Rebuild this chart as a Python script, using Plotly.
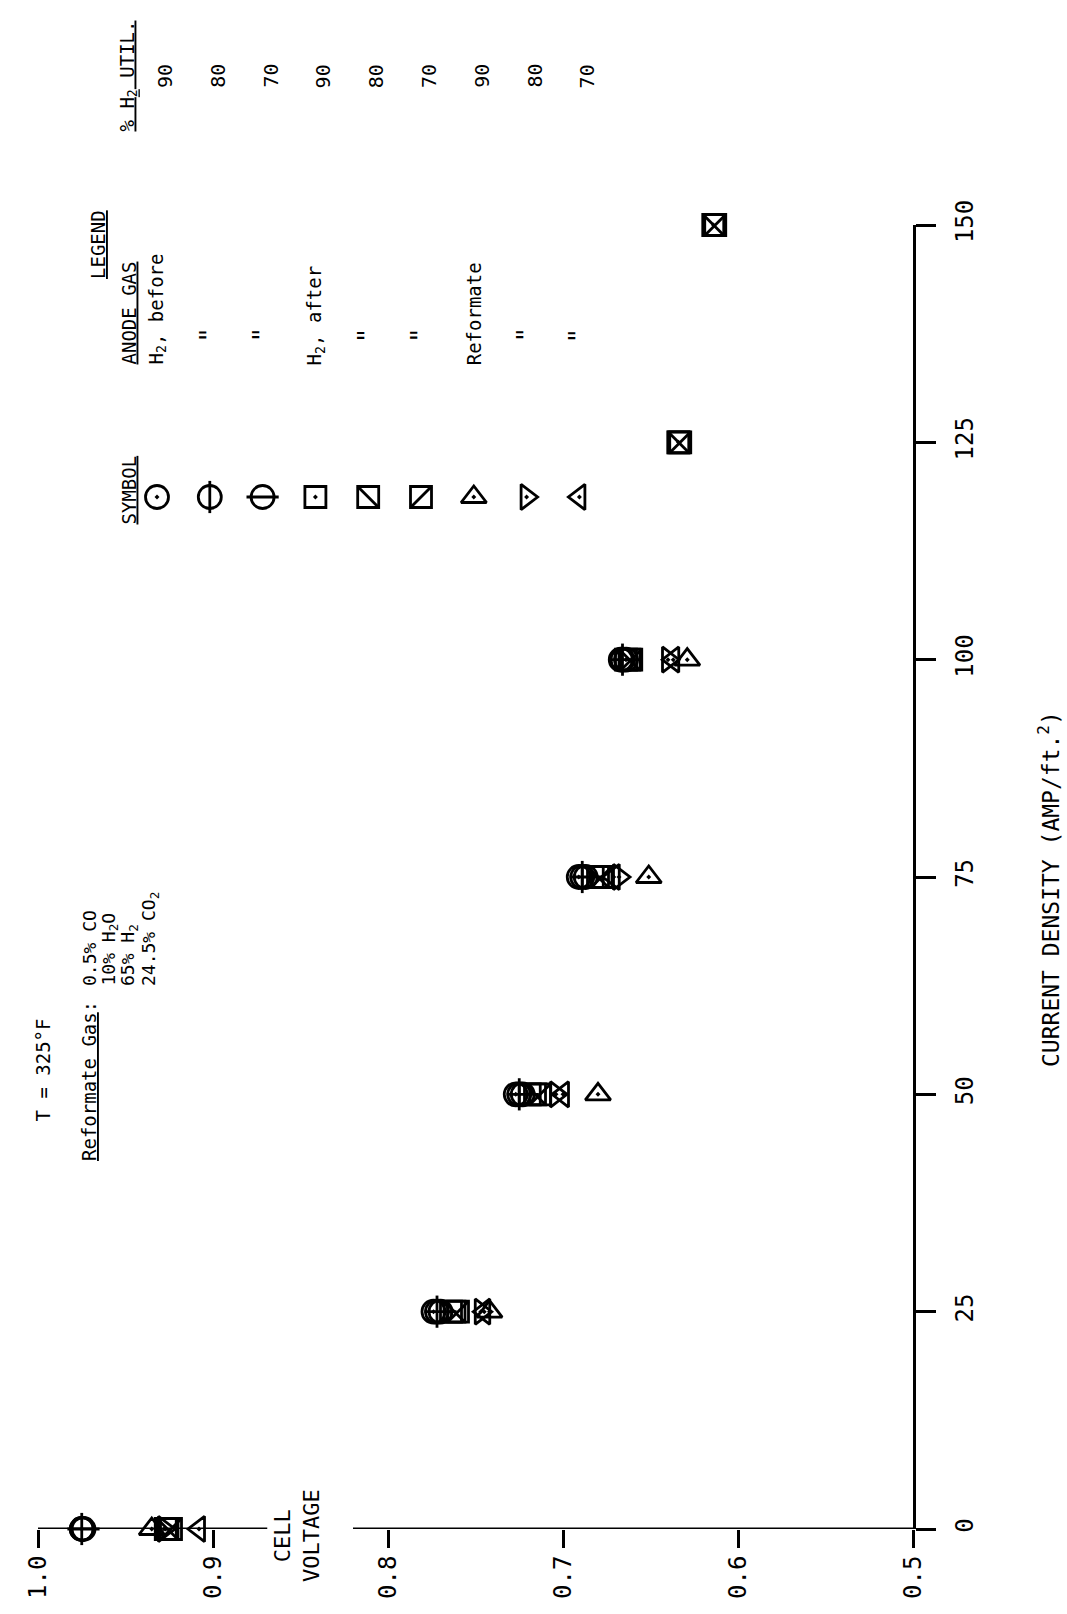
import plotly.graph_objects as go

# ---------------- data (cell voltage vs current density) ----------------
current_before = [0, 25, 50, 75, 100]
v_before_90 = [0.975, 0.774, 0.727, 0.691, 0.667]
v_before_80 = [0.975, 0.772, 0.725, 0.689, 0.666]
v_before_70 = [0.974, 0.770, 0.723, 0.687, 0.664]

current_after = [0, 25, 50, 75, 100, 125, 150]
v_after_90 = [0.927, 0.764, 0.719, 0.683, 0.664, 0.634, 0.614]
v_after_80 = [0.926, 0.762, 0.716, 0.680, 0.662, 0.634, 0.614]
v_after_70 = [0.924, 0.760, 0.713, 0.678, 0.661, 0.633, 0.613]

current_ref = [0, 25, 50, 75, 100]
v_ref_90 = [0.935, 0.742, 0.680, 0.651, 0.629]
v_ref_80 = [0.928, 0.747, 0.704, 0.668, 0.640]
v_ref_70 = [0.908, 0.745, 0.700, 0.671, 0.637]

voltage_ticks = [1.0, 0.9, 0.8, 0.7, 0.6, 0.5]
voltage_ticktext = ["1.0", "0.9", "0.8", "0.7", "0.6", "0.5"]
current_ticks = [0, 25, 50, 75, 100, 125, 150]

legend_anode = ["H<sub>2</sub>, before", '"', '"', "H<sub>2</sub>, after", '"', '"',
                "Reformate", '"', '"']
legend_util = ["90", "80", "70", "90", "80", "70", "90", "80", "70"]
composition = ["0.5% CO", "10% H<sub>2</sub>O", "65% H<sub>2</sub>", "24.5% CO<sub>2</sub>"]

# ---------------- styling ----------------
FONT = "DejaVu Sans Mono"
W, H = 1067, 1614
LW = 2.8

series = [
    (current_before, v_before_90, ["circle-open-dot"], 23),
    (current_before, v_before_80, ["circle-open", "line-ns-open"], 23),
    (current_before, v_before_70, ["circle-open", "line-ew-open"], 23),
    (current_after, v_after_90, ["square-open-dot"], 21),
    (current_after, v_after_80, ["square-open", "line-nw-open"], 21),
    (current_after, v_after_70, ["square-open", "line-ne-open"], 21),
    (current_ref, v_ref_90, ["triangle-up-open-dot"], 22),
    (current_ref, v_ref_80, ["triangle-right-open-dot"], 22),
    (current_ref, v_ref_70, ["triangle-left-open-dot"], 22),
]

fig = go.Figure()

# legend symbols on an invisible pixel-space axis (drawn first, underneath)
row0, row_step = 157, 52.8
rows_x = [row0 + i * row_step for i in range(9)]
sym_col_y = 497
for i, (cur, volt, syms, size) in enumerate(series):
    for s in syms:
        fig.add_trace(go.Scatter(
            x=[rows_x[i]], y=[sym_col_y], mode="markers", cliponaxis=False,
            marker=dict(symbol=s, size=size, color="black", line=dict(width=LW, color="black")),
            xaxis="x2", yaxis="y2", hoverinfo="skip"))

for cur, volt, syms, size in series:
    for s in syms:
        fig.add_trace(go.Scatter(
            x=volt, y=cur, mode="markers", cliponaxis=False,
            marker=dict(symbol=s, size=size, color="black", line=dict(width=LW, color="black")),
            xaxis="x", yaxis="y", hoverinfo="skip"))

annotations = []


def txt(x, y, text, size=19, xanchor="center", yanchor="middle"):
    annotations.append(dict(
        x=x, y=y, xref="x2", yref="y2", text=text, showarrow=False, textangle=-90,
        xanchor=xanchor, yanchor=yanchor, font=dict(family=FONT, size=size, color="black")))


# legend header and entries
txt(98, 245, "<u>LEGEND</u>", 19)
txt(128, 527, "<u>SYMBOL</u>", 19, yanchor="bottom")
txt(128, 367, "<u>ANODE GAS</u>", 19, yanchor="bottom")
txt(128, 134, "<u>% H<sub>2</sub> UTIL.</u>", 19, yanchor="bottom")
for i in range(9):
    if legend_anode[i] == '"':
        txt(rows_x[i], 335, '"', 26)
    else:
        txt(rows_x[i], 367, legend_anode[i], 19, yanchor="bottom")
    txt(rows_x[i] + 8, 76, legend_util[i], 20)

# test conditions
txt(42, 1124, "T = 325°F", 19, yanchor="bottom")
txt(89, 1163, "<u>Reformate Gas</u>:", 19, yanchor="bottom")
comp_x = [89, 109, 129, 150]
for cx, ct in zip(comp_x, composition):
    txt(cx, 988, ct, 18, yanchor="bottom")

# axis titles
txt(297, 1536, "CELL<br>VOLTAGE", 22)
txt(1049, 889, "CURRENT DENSITY (AMP/ft.<sup>2</sup>)", 23)

fig.update_layout(
    template="none",
    width=W, height=H, autosize=False,
    margin=dict(l=0, r=0, t=0, b=0, pad=0),
    paper_bgcolor="white", plot_bgcolor="rgba(0,0,0,0)",
    showlegend=False,
    annotations=annotations,
    xaxis=dict(
        domain=[38 / W, 913 / W], range=[1.0, 0.5], anchor="y", automargin=False,
        tickvals=voltage_ticks, ticktext=voltage_ticktext, tickangle=-90,
        ticks="outside", ticklen=18, tickwidth=3, tickcolor="black",
        showline=False, showgrid=False, zeroline=False,
        tickfont=dict(family=FONT, size=24, color="black"), ticklabelstandoff=-2,
    ),
    yaxis=dict(
        domain=[1 - 1529 / H, 1 - 225 / H], range=[0, 150], anchor="x", side="right",
        automargin=False,
        tickvals=current_ticks, tickangle=-90,
        ticks="outside", ticklen=20, tickwidth=3, tickcolor="black",
        showline=True, linewidth=3, linecolor="black",
        showgrid=False, zeroline=False,
        tickfont=dict(family=FONT, size=24, color="black"), ticklabelstandoff=8,
    ),
    xaxis2=dict(domain=[0, 1], range=[0, W], anchor="y2", visible=False,
                fixedrange=True, automargin=False),
    yaxis2=dict(domain=[0, 1], range=[H, 0], anchor="x2", visible=False,
                fixedrange=True, automargin=False),
    shapes=[
        dict(type="line", xref="x", yref="y", x0=1.0, x1=0.869, y0=0, y1=0,
             line=dict(color="black", width=3), layer="below"),
        dict(type="line", xref="x", yref="y", x0=0.82, x1=0.5, y0=0, y1=0,
             line=dict(color="black", width=3), layer="below"),
    ],
)

fig.write_html("out.html")
